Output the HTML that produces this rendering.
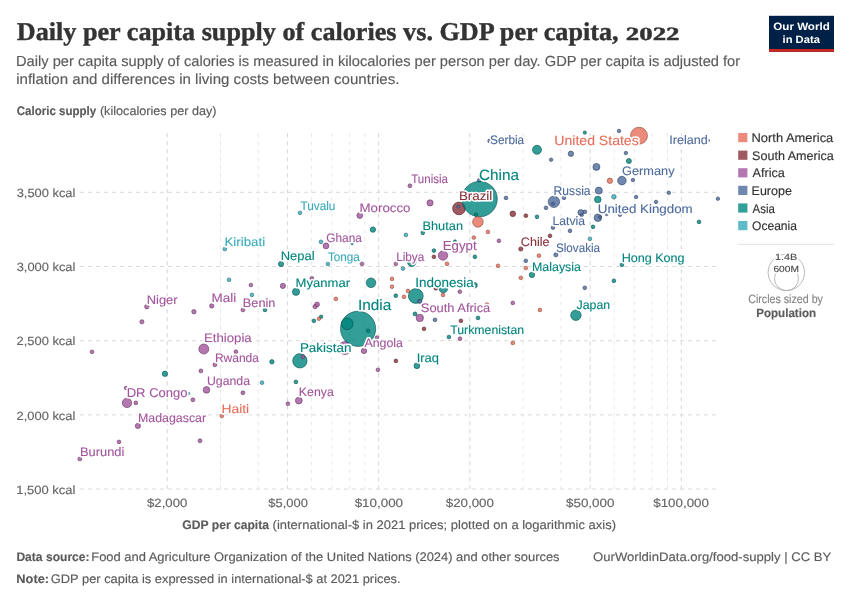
<!DOCTYPE html>
<html lang="en"><head><meta charset="utf-8"><title>Daily per capita supply of calories vs. GDP per capita, 2022</title>
<style>
html,body{margin:0;padding:0;background:#fff;}
body{width:850px;height:600px;overflow:hidden;}
svg{display:block;will-change:transform;text-rendering:geometricPrecision;font-family:"Liberation Sans",sans-serif;}
.ser{font-family:"Liberation Serif",serif;font-weight:bold;}
.halo{fill:#fff;stroke:#fff;stroke-width:3.2px;stroke-linejoin:round;}
</style></head><body>
<svg width="850" height="600" viewBox="0 0 850 600">
<rect width="850" height="600" fill="#fff"/>
<text x="16.74" y="40" font-size="25.6" textLength="601.86" lengthAdjust="spacingAndGlyphs" class="ser" fill="#333" stroke="#333" stroke-width="0.4">Daily per capita supply of calories vs. GDP per capita,</text>
<text x="625.77" y="40" font-size="18.6" textLength="53.78" lengthAdjust="spacingAndGlyphs" class="ser" fill="#333" stroke="#333" stroke-width="0.4">2022</text>
<text x="16.00" y="66" font-size="14.6" textLength="724.15" lengthAdjust="spacingAndGlyphs" fill="#5b5b5b" stroke="#5b5b5b" stroke-width="0.15">Daily per capita supply of calories is measured in kilocalories per person per day. GDP per capita is adjusted for</text>
<text x="16.19" y="84" font-size="14.6" textLength="383.18" lengthAdjust="spacingAndGlyphs" fill="#5b5b5b" stroke="#5b5b5b" stroke-width="0.15">inflation and differences in living costs between countries.</text>
<rect x="769" y="15.8" width="65" height="36" fill="#002147"/><rect x="769" y="49" width="65" height="2.8" fill="#ce261e"/>
<text x="773.32" y="30" font-size="10.6" textLength="56.44" lengthAdjust="spacingAndGlyphs" font-weight="bold" fill="#fff" stroke="#fff" stroke-width="0.01">Our World</text>
<text x="782.52" y="43" font-size="10.6" textLength="37.41" lengthAdjust="spacingAndGlyphs" font-weight="bold" fill="#fff" stroke="#fff" stroke-width="0.01">in Data</text>
<text x="16.73" y="115" font-size="12.4" textLength="79.43" lengthAdjust="spacingAndGlyphs" font-weight="bold" fill="#5b5b5b" stroke="#5b5b5b" stroke-width="0.15">Caloric supply</text>
<text x="99.92" y="115" font-size="12.4" textLength="116.67" lengthAdjust="spacingAndGlyphs" fill="#5b5b5b" stroke="#5b5b5b" stroke-width="0.15">(kilocalories per day)</text>
<g fill="none" stroke-dasharray="4,4" stroke-width="1">
<line x1="80" x2="716" y1="192.3" y2="192.3" stroke="#dadada"/>
<line x1="80" x2="716" y1="266.5" y2="266.5" stroke="#dadada"/>
<line x1="80" x2="716" y1="340.7" y2="340.7" stroke="#dadada"/>
<line x1="80" x2="716" y1="414.9" y2="414.9" stroke="#dadada"/>
<line x1="80" x2="716" y1="489.1" y2="489.1" stroke="#dadada"/>
<line x1="167.2" x2="167.2" y1="133.3" y2="489" stroke="#d4d4d4"/>
<line x1="287.6" x2="287.6" y1="133.3" y2="489" stroke="#d4d4d4"/>
<line x1="378.7" x2="378.7" y1="133.3" y2="489" stroke="#d4d4d4"/>
<line x1="469.8" x2="469.8" y1="133.3" y2="489" stroke="#d4d4d4"/>
<line x1="590.2" x2="590.2" y1="133.3" y2="489" stroke="#d4d4d4"/>
<line x1="681.3" x2="681.3" y1="133.3" y2="489" stroke="#d4d4d4"/>
<line x1="220.5" x2="220.5" y1="133.3" y2="489" stroke="#e8e8e8"/>
<line x1="258.3" x2="258.3" y1="133.3" y2="489" stroke="#e8e8e8"/>
<line x1="311.6" x2="311.6" y1="133.3" y2="489" stroke="#e8e8e8"/>
<line x1="331.8" x2="331.8" y1="133.3" y2="489" stroke="#e8e8e8"/>
<line x1="349.4" x2="349.4" y1="133.3" y2="489" stroke="#e8e8e8"/>
<line x1="364.9" x2="364.9" y1="133.3" y2="489" stroke="#e8e8e8"/>
<line x1="523.1" x2="523.1" y1="133.3" y2="489" stroke="#e8e8e8"/>
<line x1="560.9" x2="560.9" y1="133.3" y2="489" stroke="#e8e8e8"/>
<line x1="614.2" x2="614.2" y1="133.3" y2="489" stroke="#e8e8e8"/>
<line x1="634.4" x2="634.4" y1="133.3" y2="489" stroke="#e8e8e8"/>
<line x1="652.0" x2="652.0" y1="133.3" y2="489" stroke="#e8e8e8"/>
<line x1="667.5" x2="667.5" y1="133.3" y2="489" stroke="#e8e8e8"/>
</g>
<text x="16.71" y="197" font-size="12" textLength="58.65" lengthAdjust="spacingAndGlyphs" fill="#666" stroke="#666" stroke-width="0.15">3,500 kcal</text>
<text x="16.71" y="271" font-size="12" textLength="58.65" lengthAdjust="spacingAndGlyphs" fill="#666" stroke="#666" stroke-width="0.15">3,000 kcal</text>
<text x="16.55" y="345" font-size="12" textLength="58.81" lengthAdjust="spacingAndGlyphs" fill="#666" stroke="#666" stroke-width="0.15">2,500 kcal</text>
<text x="16.55" y="420" font-size="12" textLength="58.81" lengthAdjust="spacingAndGlyphs" fill="#666" stroke="#666" stroke-width="0.15">2,000 kcal</text>
<text x="16.21" y="494" font-size="12" textLength="59.16" lengthAdjust="spacingAndGlyphs" fill="#666" stroke="#666" stroke-width="0.15">1,500 kcal</text>
<text x="147.06" y="507" font-size="12" textLength="40.26" lengthAdjust="spacingAndGlyphs" fill="#666" stroke="#666" stroke-width="0.15">$2,000</text>
<text x="268.36" y="507" font-size="12" textLength="39.44" lengthAdjust="spacingAndGlyphs" fill="#666" stroke="#666" stroke-width="0.15">$5,000</text>
<text x="354.66" y="507" font-size="12" textLength="48.37" lengthAdjust="spacingAndGlyphs" fill="#666" stroke="#666" stroke-width="0.15">$10,000</text>
<text x="445.76" y="507" font-size="12" textLength="48.16" lengthAdjust="spacingAndGlyphs" fill="#666" stroke="#666" stroke-width="0.15">$20,000</text>
<text x="566.06" y="507" font-size="12" textLength="48.37" lengthAdjust="spacingAndGlyphs" fill="#666" stroke="#666" stroke-width="0.15">$50,000</text>
<text x="653.26" y="507" font-size="12" textLength="55.66" lengthAdjust="spacingAndGlyphs" fill="#666" stroke="#666" stroke-width="0.15">$100,000</text>
<text x="182.30" y="529" font-size="12.4" textLength="86.72" lengthAdjust="spacingAndGlyphs" font-weight="bold" fill="#5b5b5b" stroke="#5b5b5b" stroke-width="0.15">GDP per capita</text>
<text x="272.60" y="529" font-size="12.4" textLength="343.41" lengthAdjust="spacingAndGlyphs" fill="#5b5b5b" stroke="#5b5b5b" stroke-width="0.15">(international-$ in 2021 prices; plotted on a logarithmic axis)</text>
<g stroke-width="0.6" fill-opacity="0.8">
<circle cx="345" cy="348" r="6.5" fill="#A2559C" stroke="#643460"/>
<circle cx="459" cy="208.4" r="6.4" fill="#883039" stroke="#541d23"/>
<circle cx="479.2" cy="180.3" r="1.85" fill="#4C6A9C" stroke="#2f4160"/>
<circle cx="358.1" cy="328.8" r="17.6" fill="#00847E" stroke="#00514e"/>
<circle cx="479.6" cy="199.1" r="17.7" fill="#00847E" stroke="#00514e"/>
<circle cx="639" cy="135.7" r="8.5" fill="#E56E5A" stroke="#8d4437"/>
<circle cx="415.8" cy="296" r="7.4" fill="#00847E" stroke="#00514e"/>
<circle cx="299.9" cy="360.8" r="7.2" fill="#00847E" stroke="#00514e"/>
<circle cx="347.2" cy="323.8" r="5.9" fill="#00847E" stroke="#00514e"/>
<circle cx="553.9" cy="201.8" r="5.7" fill="#4C6A9C" stroke="#2f4160"/>
<circle cx="575.9" cy="315.2" r="5.2" fill="#00847E" stroke="#00514e"/>
<circle cx="477.9" cy="221.9" r="5.3" fill="#E56E5A" stroke="#8d4437"/>
<circle cx="203.8" cy="349" r="5.0" fill="#A2559C" stroke="#643460"/>
<circle cx="443" cy="255.5" r="4.7" fill="#A2559C" stroke="#643460"/>
<circle cx="127" cy="402.9" r="4.7" fill="#A2559C" stroke="#643460"/>
<circle cx="371" cy="282.8" r="4.8" fill="#00847E" stroke="#00514e"/>
<circle cx="537" cy="149.8" r="4.5" fill="#00847E" stroke="#00514e"/>
<circle cx="621.9" cy="180.6" r="4.3" fill="#4C6A9C" stroke="#2f4160"/>
<circle cx="443.3" cy="288.5" r="4.3" fill="#00847E" stroke="#00514e"/>
<circle cx="597.9" cy="217.7" r="3.8" fill="#4C6A9C" stroke="#2f4160"/>
<circle cx="411.75" cy="262.3" r="4.2" fill="#00847E" stroke="#00514e"/>
<circle cx="419.8" cy="317.9" r="3.7" fill="#A2559C" stroke="#643460"/>
<circle cx="296" cy="291.8" r="3.6" fill="#00847E" stroke="#00514e"/>
<circle cx="596.4" cy="166.9" r="3.5" fill="#4C6A9C" stroke="#2f4160"/>
<circle cx="598.8" cy="190.6" r="3.5" fill="#4C6A9C" stroke="#2f4160"/>
<circle cx="597.8" cy="199.5" r="3.3" fill="#00847E" stroke="#00514e"/>
<circle cx="298.8" cy="400.6" r="3.4" fill="#A2559C" stroke="#643460"/>
<circle cx="206.5" cy="389.9" r="3.3" fill="#A2559C" stroke="#643460"/>
<circle cx="430" cy="202.9" r="3.1" fill="#A2559C" stroke="#643460"/>
<circle cx="359.8" cy="215.5" r="2.9" fill="#A2559C" stroke="#643460"/>
<circle cx="326" cy="245.9" r="2.9" fill="#A2559C" stroke="#643460"/>
<circle cx="416.9" cy="365.8" r="2.9" fill="#00847E" stroke="#00514e"/>
<circle cx="580.8" cy="212.5" r="2.9" fill="#4C6A9C" stroke="#2f4160"/>
<circle cx="512.8" cy="213.8" r="2.8" fill="#883039" stroke="#541d23"/>
<circle cx="364" cy="350.9" r="2.7" fill="#A2559C" stroke="#643460"/>
<circle cx="570.9" cy="153.8" r="2.7" fill="#4C6A9C" stroke="#2f4160"/>
<circle cx="609.9" cy="180.8" r="2.7" fill="#E56E5A" stroke="#8d4437"/>
<circle cx="372.9" cy="229.6" r="2.7" fill="#00847E" stroke="#00514e"/>
<circle cx="164.9" cy="373.8" r="2.7" fill="#00847E" stroke="#00514e"/>
<circle cx="531.9" cy="274.9" r="2.7" fill="#00847E" stroke="#00514e"/>
<circle cx="474.5" cy="285.2" r="2.8" fill="#00847E" stroke="#00514e"/>
<circle cx="281" cy="264" r="2.6" fill="#00847E" stroke="#00514e"/>
<circle cx="282.9" cy="285.9" r="2.6" fill="#A2559C" stroke="#643460"/>
<circle cx="137.9" cy="425.9" r="2.6" fill="#A2559C" stroke="#643460"/>
<circle cx="628.9" cy="161" r="2.5" fill="#00847E" stroke="#00514e"/>
<circle cx="317.1" cy="304.4" r="2.4" fill="#A2559C" stroke="#643460"/>
<circle cx="315.1" cy="306.6" r="2.2" fill="#A2559C" stroke="#643460"/>
<circle cx="613.9" cy="196.8" r="2.3" fill="#38AABA" stroke="#226973"/>
<circle cx="211.7" cy="305.9" r="2.2" fill="#A2559C" stroke="#643460"/>
<circle cx="146.8" cy="306.7" r="2.2" fill="#A2559C" stroke="#643460"/>
<circle cx="193.9" cy="311.7" r="2.2" fill="#A2559C" stroke="#643460"/>
<circle cx="271.9" cy="361.8" r="2.2" fill="#00847E" stroke="#00514e"/>
<circle cx="419.8" cy="301.3" r="2.2" fill="#4C6A9C" stroke="#2f4160"/>
<circle cx="141.9" cy="321.8" r="2.1" fill="#A2559C" stroke="#643460"/>
<circle cx="520.8" cy="249" r="2.1" fill="#883039" stroke="#541d23"/>
<circle cx="555.9" cy="254.8" r="2.1" fill="#4C6A9C" stroke="#2f4160"/>
<circle cx="409.9" cy="185.8" r="1.95" fill="#A2559C" stroke="#643460"/>
<circle cx="242.9" cy="309.9" r="1.95" fill="#A2559C" stroke="#643460"/>
<circle cx="214.9" cy="364.8" r="1.95" fill="#A2559C" stroke="#643460"/>
<circle cx="200.9" cy="370.9" r="1.95" fill="#A2559C" stroke="#643460"/>
<circle cx="242.9" cy="392.8" r="1.95" fill="#A2559C" stroke="#643460"/>
<circle cx="192.9" cy="399.8" r="1.95" fill="#A2559C" stroke="#643460"/>
<circle cx="200" cy="440.8" r="1.95" fill="#A2559C" stroke="#643460"/>
<circle cx="79.8" cy="458.9" r="1.95" fill="#A2559C" stroke="#643460"/>
<circle cx="415" cy="313.9" r="1.95" fill="#00847E" stroke="#00514e"/>
<circle cx="300" cy="212.8" r="1.85" fill="#38AABA" stroke="#226973"/>
<circle cx="224.8" cy="249" r="1.85" fill="#38AABA" stroke="#226973"/>
<circle cx="321" cy="241.8" r="1.85" fill="#38AABA" stroke="#226973"/>
<circle cx="327.9" cy="264" r="1.85" fill="#38AABA" stroke="#226973"/>
<circle cx="229" cy="279.8" r="1.85" fill="#38AABA" stroke="#226973"/>
<circle cx="251.9" cy="294.9" r="1.85" fill="#38AABA" stroke="#226973"/>
<circle cx="405.9" cy="234.9" r="1.85" fill="#38AABA" stroke="#226973"/>
<circle cx="403" cy="268.6" r="1.85" fill="#38AABA" stroke="#226973"/>
<circle cx="262" cy="382.7" r="1.85" fill="#38AABA" stroke="#226973"/>
<circle cx="589.9" cy="238.8" r="1.85" fill="#38AABA" stroke="#226973"/>
<circle cx="188.6" cy="393.6" r="1.25" fill="#38AABA" stroke="#226973"/>
<circle cx="250.9" cy="285" r="1.85" fill="#A2559C" stroke="#643460"/>
<circle cx="311.8" cy="278.3" r="1.85" fill="#A2559C" stroke="#643460"/>
<circle cx="361.9" cy="263.8" r="1.85" fill="#A2559C" stroke="#643460"/>
<circle cx="395.8" cy="263.8" r="1.85" fill="#A2559C" stroke="#643460"/>
<circle cx="459.8" cy="291.7" r="1.85" fill="#A2559C" stroke="#643460"/>
<circle cx="498.9" cy="240.8" r="1.85" fill="#A2559C" stroke="#643460"/>
<circle cx="512.8" cy="302.9" r="1.85" fill="#A2559C" stroke="#643460"/>
<circle cx="460" cy="338.7" r="1.85" fill="#A2559C" stroke="#643460"/>
<circle cx="377" cy="337.5" r="1.75" fill="#A2559C" stroke="#643460"/>
<circle cx="377.9" cy="369.8" r="1.85" fill="#A2559C" stroke="#643460"/>
<circle cx="302.9" cy="356.8" r="1.85" fill="#A2559C" stroke="#643460"/>
<circle cx="235.9" cy="351.7" r="1.85" fill="#A2559C" stroke="#643460"/>
<circle cx="92" cy="351.8" r="1.85" fill="#A2559C" stroke="#643460"/>
<circle cx="135.8" cy="402.9" r="1.85" fill="#A2559C" stroke="#643460"/>
<circle cx="125.9" cy="388" r="1.65" fill="#A2559C" stroke="#643460"/>
<circle cx="119" cy="441.9" r="1.85" fill="#A2559C" stroke="#643460"/>
<circle cx="287.9" cy="403.7" r="1.85" fill="#A2559C" stroke="#643460"/>
<circle cx="584.8" cy="132.6" r="1.65" fill="#00847E" stroke="#00514e"/>
<circle cx="422.8" cy="232.8" r="1.85" fill="#00847E" stroke="#00514e"/>
<circle cx="352.1" cy="243.5" r="1.25" fill="#00847E" stroke="#00514e"/>
<circle cx="455" cy="241.3" r="1.45" fill="#00847E" stroke="#00514e"/>
<circle cx="433.9" cy="250.6" r="1.85" fill="#00847E" stroke="#00514e"/>
<circle cx="474.9" cy="256.8" r="1.85" fill="#00847E" stroke="#00514e"/>
<circle cx="537" cy="216.8" r="1.85" fill="#00847E" stroke="#00514e"/>
<circle cx="593" cy="226.8" r="1.85" fill="#00847E" stroke="#00514e"/>
<circle cx="699" cy="221.9" r="1.85" fill="#00847E" stroke="#00514e"/>
<circle cx="621.9" cy="264.8" r="1.85" fill="#00847E" stroke="#00514e"/>
<circle cx="613.9" cy="280.8" r="1.85" fill="#00847E" stroke="#00514e"/>
<circle cx="395.8" cy="295.7" r="1.85" fill="#00847E" stroke="#00514e"/>
<circle cx="265" cy="309.9" r="1.85" fill="#00847E" stroke="#00514e"/>
<circle cx="321.1" cy="316.8" r="1.75" fill="#00847E" stroke="#00514e"/>
<circle cx="313.9" cy="320.8" r="1.85" fill="#00847E" stroke="#00514e"/>
<circle cx="368.1" cy="330.8" r="1.85" fill="#00847E" stroke="#00514e"/>
<circle cx="448.9" cy="337" r="1.85" fill="#00847E" stroke="#00514e"/>
<circle cx="478" cy="317.9" r="1.85" fill="#00847E" stroke="#00514e"/>
<circle cx="295.9" cy="381.9" r="1.85" fill="#00847E" stroke="#00514e"/>
<circle cx="476" cy="214.6" r="1.65" fill="#00847E" stroke="#00514e"/>
<circle cx="489.7" cy="140.9" r="1.95" fill="#4C6A9C" stroke="#2f4160"/>
<circle cx="619" cy="130.9" r="1.75" fill="#4C6A9C" stroke="#2f4160"/>
<circle cx="625.9" cy="153" r="1.75" fill="#4C6A9C" stroke="#2f4160"/>
<circle cx="551.1" cy="159.7" r="1.75" fill="#4C6A9C" stroke="#2f4160"/>
<circle cx="632.9" cy="180" r="1.75" fill="#4C6A9C" stroke="#2f4160"/>
<circle cx="636.1" cy="197" r="1.75" fill="#4C6A9C" stroke="#2f4160"/>
<circle cx="656" cy="201.9" r="1.75" fill="#4C6A9C" stroke="#2f4160"/>
<circle cx="668.8" cy="192.8" r="1.75" fill="#4C6A9C" stroke="#2f4160"/>
<circle cx="717.9" cy="198.7" r="1.75" fill="#4C6A9C" stroke="#2f4160"/>
<circle cx="564" cy="197.8" r="1.85" fill="#4C6A9C" stroke="#2f4160"/>
<circle cx="546" cy="207.8" r="1.85" fill="#4C6A9C" stroke="#2f4160"/>
<circle cx="506" cy="197.9" r="1.85" fill="#4C6A9C" stroke="#2f4160"/>
<circle cx="553" cy="203.7" r="1.55" fill="#4C6A9C" stroke="#2f4160"/>
<circle cx="458.4" cy="206.6" r="1.65" fill="#4C6A9C" stroke="#2f4160"/>
<circle cx="584.9" cy="211.8" r="1.85" fill="#4C6A9C" stroke="#2f4160"/>
<circle cx="581.7" cy="215.2" r="1.65" fill="#4C6A9C" stroke="#2f4160"/>
<circle cx="599.9" cy="217" r="1.45" fill="#4C6A9C" stroke="#2f4160"/>
<circle cx="606.6" cy="214.3" r="1.45" fill="#4C6A9C" stroke="#2f4160"/>
<circle cx="619.9" cy="214.8" r="1.75" fill="#4C6A9C" stroke="#2f4160"/>
<circle cx="553" cy="227.6" r="1.85" fill="#4C6A9C" stroke="#2f4160"/>
<circle cx="570" cy="230.8" r="1.85" fill="#4C6A9C" stroke="#2f4160"/>
<circle cx="525.8" cy="260.8" r="1.85" fill="#4C6A9C" stroke="#2f4160"/>
<circle cx="584.8" cy="287.8" r="1.85" fill="#4C6A9C" stroke="#2f4160"/>
<circle cx="435" cy="319.8" r="1.85" fill="#4C6A9C" stroke="#2f4160"/>
<circle cx="525.9" cy="215.7" r="1.85" fill="#883039" stroke="#541d23"/>
<circle cx="550" cy="235.8" r="1.85" fill="#883039" stroke="#541d23"/>
<circle cx="433.9" cy="256.8" r="1.85" fill="#883039" stroke="#541d23"/>
<circle cx="435.8" cy="288.3" r="1.85" fill="#883039" stroke="#541d23"/>
<circle cx="460.9" cy="320.8" r="1.85" fill="#883039" stroke="#541d23"/>
<circle cx="424" cy="328.8" r="1.85" fill="#883039" stroke="#541d23"/>
<circle cx="395.9" cy="360.9" r="1.85" fill="#883039" stroke="#541d23"/>
<circle cx="487.9" cy="231.9" r="1.85" fill="#E56E5A" stroke="#8d4437"/>
<circle cx="473.8" cy="237.6" r="1.85" fill="#E56E5A" stroke="#8d4437"/>
<circle cx="447" cy="263.8" r="1.85" fill="#E56E5A" stroke="#8d4437"/>
<circle cx="538.9" cy="255.7" r="1.85" fill="#E56E5A" stroke="#8d4437"/>
<circle cx="498" cy="265.8" r="1.85" fill="#E56E5A" stroke="#8d4437"/>
<circle cx="525.8" cy="268" r="1.85" fill="#E56E5A" stroke="#8d4437"/>
<circle cx="520.8" cy="277.8" r="1.85" fill="#E56E5A" stroke="#8d4437"/>
<circle cx="392" cy="278.9" r="1.85" fill="#E56E5A" stroke="#8d4437"/>
<circle cx="392" cy="286.7" r="1.85" fill="#E56E5A" stroke="#8d4437"/>
<circle cx="408" cy="290.9" r="1.85" fill="#E56E5A" stroke="#8d4437"/>
<circle cx="404" cy="296.8" r="1.85" fill="#E56E5A" stroke="#8d4437"/>
<circle cx="443" cy="294.9" r="1.85" fill="#E56E5A" stroke="#8d4437"/>
<circle cx="335.8" cy="298.9" r="1.85" fill="#E56E5A" stroke="#8d4437"/>
<circle cx="318.9" cy="318.8" r="1.75" fill="#E56E5A" stroke="#8d4437"/>
<circle cx="486.9" cy="304.5" r="1.85" fill="#E56E5A" stroke="#8d4437"/>
<circle cx="539.9" cy="309.9" r="1.85" fill="#E56E5A" stroke="#8d4437"/>
<circle cx="512.8" cy="342.9" r="1.85" fill="#E56E5A" stroke="#8d4437"/>
<circle cx="221.8" cy="416" r="1.85" fill="#E56E5A" stroke="#8d4437"/>
</g>
<path d="M708.2,138 L710.2,140.4 L708.2,142.8 Z" fill="#4C6A9C"/>
<text x="490.06" y="144" font-size="12.3" textLength="34.14" lengthAdjust="spacingAndGlyphs" class="halo">Serbia</text><text x="490.06" y="144" font-size="12.3" textLength="34.14" lengthAdjust="spacingAndGlyphs" fill="#4C6A9C" stroke="#4C6A9C" stroke-width="0.1">Serbia</text>
<text x="554.32" y="145" font-size="13.4" textLength="84.39" lengthAdjust="spacingAndGlyphs" class="halo">United States</text><text x="554.32" y="145" font-size="13.4" textLength="84.39" lengthAdjust="spacingAndGlyphs" fill="#E56E5A" stroke="#E56E5A" stroke-width="0.1">United States</text>
<text x="669.34" y="144" font-size="12.3" textLength="38.47" lengthAdjust="spacingAndGlyphs" class="halo">Ireland</text><text x="669.34" y="144" font-size="12.3" textLength="38.47" lengthAdjust="spacingAndGlyphs" fill="#4C6A9C" stroke="#4C6A9C" stroke-width="0.1">Ireland</text>
<text x="478.92" y="180" font-size="15" textLength="40.08" lengthAdjust="spacingAndGlyphs" class="halo">China</text><text x="478.92" y="180" font-size="15" textLength="40.08" lengthAdjust="spacingAndGlyphs" fill="#00847E" stroke="#00847E" stroke-width="0.1">China</text>
<text x="411.24" y="183" font-size="12.3" textLength="36.76" lengthAdjust="spacingAndGlyphs" class="halo">Tunisia</text><text x="411.24" y="183" font-size="12.3" textLength="36.76" lengthAdjust="spacingAndGlyphs" fill="#A2559C" stroke="#A2559C" stroke-width="0.1">Tunisia</text>
<text x="622.06" y="175" font-size="12.3" textLength="52.47" lengthAdjust="spacingAndGlyphs" class="halo">Germany</text><text x="622.06" y="175" font-size="12.3" textLength="52.47" lengthAdjust="spacingAndGlyphs" fill="#4C6A9C" stroke="#4C6A9C" stroke-width="0.1">Germany</text>
<text x="553.61" y="195" font-size="12.7" textLength="36.99" lengthAdjust="spacingAndGlyphs" class="halo">Russia</text><text x="553.61" y="195" font-size="12.7" textLength="36.99" lengthAdjust="spacingAndGlyphs" fill="#4C6A9C" stroke="#4C6A9C" stroke-width="0.1">Russia</text>
<text x="458.90" y="200" font-size="12.3" textLength="33.39" lengthAdjust="spacingAndGlyphs" class="halo">Brazil</text><text x="458.90" y="200" font-size="12.3" textLength="33.39" lengthAdjust="spacingAndGlyphs" fill="#883039" stroke="#883039" stroke-width="0.1">Brazil</text>
<text x="597.77" y="213" font-size="12.3" textLength="94.91" lengthAdjust="spacingAndGlyphs" class="halo">United Kingdom</text><text x="597.77" y="213" font-size="12.3" textLength="94.91" lengthAdjust="spacingAndGlyphs" fill="#4C6A9C" stroke="#4C6A9C" stroke-width="0.1">United Kingdom</text>
<text x="300.44" y="210" font-size="12.3" textLength="34.95" lengthAdjust="spacingAndGlyphs" class="halo">Tuvalu</text><text x="300.44" y="210" font-size="12.3" textLength="34.95" lengthAdjust="spacingAndGlyphs" fill="#38AABA" stroke="#38AABA" stroke-width="0.1">Tuvalu</text>
<text x="359.51" y="212" font-size="12.3" textLength="50.95" lengthAdjust="spacingAndGlyphs" class="halo">Morocco</text><text x="359.51" y="212" font-size="12.3" textLength="50.95" lengthAdjust="spacingAndGlyphs" fill="#A2559C" stroke="#A2559C" stroke-width="0.1">Morocco</text>
<text x="552.50" y="225" font-size="12.3" textLength="32.50" lengthAdjust="spacingAndGlyphs" class="halo">Latvia</text><text x="552.50" y="225" font-size="12.3" textLength="32.50" lengthAdjust="spacingAndGlyphs" fill="#4C6A9C" stroke="#4C6A9C" stroke-width="0.1">Latvia</text>
<text x="422.45" y="230" font-size="12.3" textLength="40.58" lengthAdjust="spacingAndGlyphs" class="halo">Bhutan</text><text x="422.45" y="230" font-size="12.3" textLength="40.58" lengthAdjust="spacingAndGlyphs" fill="#00847E" stroke="#00847E" stroke-width="0.1">Bhutan</text>
<text x="326.30" y="242" font-size="12.3" textLength="35.60" lengthAdjust="spacingAndGlyphs" class="halo">Ghana</text><text x="326.30" y="242" font-size="12.3" textLength="35.60" lengthAdjust="spacingAndGlyphs" fill="#A2559C" stroke="#A2559C" stroke-width="0.1">Ghana</text>
<text x="224.41" y="246" font-size="12.3" textLength="40.69" lengthAdjust="spacingAndGlyphs" class="halo">Kiribati</text><text x="224.41" y="246" font-size="12.3" textLength="40.69" lengthAdjust="spacingAndGlyphs" fill="#38AABA" stroke="#38AABA" stroke-width="0.1">Kiribati</text>
<text x="520.86" y="246" font-size="12.3" textLength="28.70" lengthAdjust="spacingAndGlyphs" class="halo">Chile</text><text x="520.86" y="246" font-size="12.3" textLength="28.70" lengthAdjust="spacingAndGlyphs" fill="#883039" stroke="#883039" stroke-width="0.1">Chile</text>
<text x="442.71" y="250" font-size="13" textLength="33.88" lengthAdjust="spacingAndGlyphs" class="halo">Egypt</text><text x="442.71" y="250" font-size="13" textLength="33.88" lengthAdjust="spacingAndGlyphs" fill="#A2559C" stroke="#A2559C" stroke-width="0.1">Egypt</text>
<text x="555.97" y="252" font-size="12.3" textLength="44.13" lengthAdjust="spacingAndGlyphs" class="halo">Slovakia</text><text x="555.97" y="252" font-size="12.3" textLength="44.13" lengthAdjust="spacingAndGlyphs" fill="#4C6A9C" stroke="#4C6A9C" stroke-width="0.1">Slovakia</text>
<text x="280.73" y="260" font-size="12.3" textLength="33.93" lengthAdjust="spacingAndGlyphs" class="halo">Nepal</text><text x="280.73" y="260" font-size="12.3" textLength="33.93" lengthAdjust="spacingAndGlyphs" fill="#00847E" stroke="#00847E" stroke-width="0.1">Nepal</text>
<text x="327.94" y="261" font-size="12.3" textLength="31.86" lengthAdjust="spacingAndGlyphs" class="halo">Tonga</text><text x="327.94" y="261" font-size="12.3" textLength="31.86" lengthAdjust="spacingAndGlyphs" fill="#38AABA" stroke="#38AABA" stroke-width="0.1">Tonga</text>
<text x="396.13" y="261" font-size="12.3" textLength="28.17" lengthAdjust="spacingAndGlyphs" class="halo">Libya</text><text x="396.13" y="261" font-size="12.3" textLength="28.17" lengthAdjust="spacingAndGlyphs" fill="#A2559C" stroke="#A2559C" stroke-width="0.1">Libya</text>
<text x="621.67" y="262" font-size="12.3" textLength="62.94" lengthAdjust="spacingAndGlyphs" class="halo">Hong Kong</text><text x="621.67" y="262" font-size="12.3" textLength="62.94" lengthAdjust="spacingAndGlyphs" fill="#00847E" stroke="#00847E" stroke-width="0.1">Hong Kong</text>
<text x="531.98" y="271" font-size="12.3" textLength="49.02" lengthAdjust="spacingAndGlyphs" class="halo">Malaysia</text><text x="531.98" y="271" font-size="12.3" textLength="49.02" lengthAdjust="spacingAndGlyphs" fill="#00847E" stroke="#00847E" stroke-width="0.1">Malaysia</text>
<text x="295.63" y="287" font-size="12.3" textLength="54.39" lengthAdjust="spacingAndGlyphs" class="halo">Myanmar</text><text x="295.63" y="287" font-size="12.3" textLength="54.39" lengthAdjust="spacingAndGlyphs" fill="#00847E" stroke="#00847E" stroke-width="0.1">Myanmar</text>
<text x="415.36" y="287" font-size="13.4" textLength="58.44" lengthAdjust="spacingAndGlyphs" class="halo">Indonesia</text><text x="415.36" y="287" font-size="13.4" textLength="58.44" lengthAdjust="spacingAndGlyphs" fill="#00847E" stroke="#00847E" stroke-width="0.1">Indonesia</text>
<text x="146.74" y="304" font-size="12.3" textLength="30.87" lengthAdjust="spacingAndGlyphs" class="halo">Niger</text><text x="146.74" y="304" font-size="12.3" textLength="30.87" lengthAdjust="spacingAndGlyphs" fill="#A2559C" stroke="#A2559C" stroke-width="0.1">Niger</text>
<text x="211.59" y="302" font-size="12.3" textLength="24.71" lengthAdjust="spacingAndGlyphs" class="halo">Mali</text><text x="211.59" y="302" font-size="12.3" textLength="24.71" lengthAdjust="spacingAndGlyphs" fill="#A2559C" stroke="#A2559C" stroke-width="0.1">Mali</text>
<text x="242.86" y="307" font-size="12.3" textLength="32.57" lengthAdjust="spacingAndGlyphs" class="halo">Benin</text><text x="242.86" y="307" font-size="12.3" textLength="32.57" lengthAdjust="spacingAndGlyphs" fill="#A2559C" stroke="#A2559C" stroke-width="0.1">Benin</text>
<text x="357.98" y="310" font-size="15" textLength="33.32" lengthAdjust="spacingAndGlyphs" class="halo">India</text><text x="357.98" y="310" font-size="15" textLength="33.32" lengthAdjust="spacingAndGlyphs" fill="#00847E" stroke="#00847E" stroke-width="0.1">India</text>
<text x="420.81" y="312" font-size="12.3" textLength="69.49" lengthAdjust="spacingAndGlyphs" class="halo">South Africa</text><text x="420.81" y="312" font-size="12.3" textLength="69.49" lengthAdjust="spacingAndGlyphs" fill="#A2559C" stroke="#A2559C" stroke-width="0.1">South Africa</text>
<text x="576.61" y="309" font-size="12.3" textLength="33.49" lengthAdjust="spacingAndGlyphs" class="halo">Japan</text><text x="576.61" y="309" font-size="12.3" textLength="33.49" lengthAdjust="spacingAndGlyphs" fill="#00847E" stroke="#00847E" stroke-width="0.1">Japan</text>
<text x="450.22" y="334" font-size="12.3" textLength="73.97" lengthAdjust="spacingAndGlyphs" class="halo">Turkmenistan</text><text x="450.22" y="334" font-size="12.3" textLength="73.97" lengthAdjust="spacingAndGlyphs" fill="#00847E" stroke="#00847E" stroke-width="0.1">Turkmenistan</text>
<text x="203.92" y="342" font-size="12.3" textLength="47.78" lengthAdjust="spacingAndGlyphs" class="halo">Ethiopia</text><text x="203.92" y="342" font-size="12.3" textLength="47.78" lengthAdjust="spacingAndGlyphs" fill="#A2559C" stroke="#A2559C" stroke-width="0.1">Ethiopia</text>
<text x="364.48" y="347" font-size="12.3" textLength="38.52" lengthAdjust="spacingAndGlyphs" class="halo">Angola</text><text x="364.48" y="347" font-size="12.3" textLength="38.52" lengthAdjust="spacingAndGlyphs" fill="#A2559C" stroke="#A2559C" stroke-width="0.1">Angola</text>
<text x="299.90" y="352" font-size="12.7" textLength="51.58" lengthAdjust="spacingAndGlyphs" class="halo">Pakistan</text><text x="299.90" y="352" font-size="12.7" textLength="51.58" lengthAdjust="spacingAndGlyphs" fill="#00847E" stroke="#00847E" stroke-width="0.1">Pakistan</text>
<text x="214.91" y="362" font-size="12.3" textLength="44.09" lengthAdjust="spacingAndGlyphs" class="halo">Rwanda</text><text x="214.91" y="362" font-size="12.3" textLength="44.09" lengthAdjust="spacingAndGlyphs" fill="#A2559C" stroke="#A2559C" stroke-width="0.1">Rwanda</text>
<text x="416.70" y="362" font-size="12.3" textLength="22.32" lengthAdjust="spacingAndGlyphs" class="halo">Iraq</text><text x="416.70" y="362" font-size="12.3" textLength="22.32" lengthAdjust="spacingAndGlyphs" fill="#00847E" stroke="#00847E" stroke-width="0.1">Iraq</text>
<text x="206.95" y="385" font-size="12.3" textLength="43.05" lengthAdjust="spacingAndGlyphs" class="halo">Uganda</text><text x="206.95" y="385" font-size="12.3" textLength="43.05" lengthAdjust="spacingAndGlyphs" fill="#A2559C" stroke="#A2559C" stroke-width="0.1">Uganda</text>
<text x="126.73" y="397" font-size="12.7" textLength="60.82" lengthAdjust="spacingAndGlyphs" class="halo">DR Congo</text><text x="126.73" y="397" font-size="12.7" textLength="60.82" lengthAdjust="spacingAndGlyphs" fill="#A2559C" stroke="#A2559C" stroke-width="0.1">DR Congo</text>
<text x="298.89" y="396" font-size="12.3" textLength="34.91" lengthAdjust="spacingAndGlyphs" class="halo">Kenya</text><text x="298.89" y="396" font-size="12.3" textLength="34.91" lengthAdjust="spacingAndGlyphs" fill="#A2559C" stroke="#A2559C" stroke-width="0.1">Kenya</text>
<text x="221.47" y="413" font-size="12.3" textLength="27.67" lengthAdjust="spacingAndGlyphs" class="halo">Haiti</text><text x="221.47" y="413" font-size="12.3" textLength="27.67" lengthAdjust="spacingAndGlyphs" fill="#E56E5A" stroke="#E56E5A" stroke-width="0.1">Haiti</text>
<text x="137.98" y="422" font-size="12.3" textLength="68.12" lengthAdjust="spacingAndGlyphs" class="halo">Madagascar</text><text x="137.98" y="422" font-size="12.3" textLength="68.12" lengthAdjust="spacingAndGlyphs" fill="#A2559C" stroke="#A2559C" stroke-width="0.1">Madagascar</text>
<text x="79.94" y="456" font-size="12.3" textLength="44.43" lengthAdjust="spacingAndGlyphs" class="halo">Burundi</text><text x="79.94" y="456" font-size="12.3" textLength="44.43" lengthAdjust="spacingAndGlyphs" fill="#A2559C" stroke="#A2559C" stroke-width="0.1">Burundi</text>
<rect x="738.2" y="133.0" width="9.2" height="9.2" fill="#E56E5A" fill-opacity="0.8"/>
<text x="751.54" y="142" font-size="12.5" textLength="81.76" lengthAdjust="spacingAndGlyphs" fill="#333" stroke="#333" stroke-width="0.15">North America</text>
<rect x="738.2" y="150.6" width="9.2" height="9.2" fill="#883039" fill-opacity="0.8"/>
<text x="752.03" y="160" font-size="12.5" textLength="81.77" lengthAdjust="spacingAndGlyphs" fill="#333" stroke="#333" stroke-width="0.15">South America</text>
<rect x="738.2" y="168.2" width="9.2" height="9.2" fill="#A2559C" fill-opacity="0.8"/>
<text x="752.58" y="177" font-size="12.5" textLength="32.22" lengthAdjust="spacingAndGlyphs" fill="#333" stroke="#333" stroke-width="0.15">Africa</text>
<rect x="738.2" y="185.8" width="9.2" height="9.2" fill="#4C6A9C" fill-opacity="0.8"/>
<text x="751.58" y="195" font-size="12.5" textLength="40.28" lengthAdjust="spacingAndGlyphs" fill="#333" stroke="#333" stroke-width="0.15">Europe</text>
<rect x="738.2" y="203.4" width="9.2" height="9.2" fill="#00847E" fill-opacity="0.8"/>
<text x="752.58" y="213" font-size="12.5" textLength="22.32" lengthAdjust="spacingAndGlyphs" fill="#333" stroke="#333" stroke-width="0.15">Asia</text>
<rect x="738.2" y="221.0" width="9.2" height="9.2" fill="#38AABA" fill-opacity="0.8"/>
<text x="752.03" y="230" font-size="12.5" textLength="44.97" lengthAdjust="spacingAndGlyphs" fill="#333" stroke="#333" stroke-width="0.15">Oceania</text>
<line x1="738.2" x2="834" y1="244.3" y2="244.3" stroke="#e0e0e0" stroke-width="1"/>
<circle cx="786.3" cy="272.4" r="18.2" fill="none" stroke="#a8a8a8" stroke-width="0.8"/>
<circle cx="786.5" cy="278.6" r="12" fill="none" stroke="#a8a8a8" stroke-width="0.8"/>
<text x="775.08" y="260" font-size="9" textLength="22.19" lengthAdjust="spacingAndGlyphs" class="halo">1.4B</text><text x="775.08" y="260" font-size="9" textLength="22.19" lengthAdjust="spacingAndGlyphs" fill="#444" stroke="#444" stroke-width="0.1">1.4B</text>
<text x="773.48" y="272" font-size="9" textLength="25.45" lengthAdjust="spacingAndGlyphs" class="halo">600M</text><text x="773.48" y="272" font-size="9" textLength="25.45" lengthAdjust="spacingAndGlyphs" fill="#444" stroke="#444" stroke-width="0.1">600M</text>
<text x="748.26" y="303" font-size="12" textLength="74.66" lengthAdjust="spacingAndGlyphs" fill="#858585" stroke="#858585" stroke-width="0.15">Circles sized by</text>
<text x="756.22" y="317" font-size="12" textLength="59.89" lengthAdjust="spacingAndGlyphs" font-weight="bold" fill="#5b5b5b" stroke="#5b5b5b" stroke-width="0.15">Population</text>
<text x="16.39" y="561" font-size="12.4" textLength="73.17" lengthAdjust="spacingAndGlyphs" font-weight="bold" fill="#5b5b5b" stroke="#5b5b5b" stroke-width="0.15">Data source:</text>
<text x="91.24" y="561" font-size="12.4" textLength="468.33" lengthAdjust="spacingAndGlyphs" fill="#5b5b5b" stroke="#5b5b5b" stroke-width="0.15">Food and Agriculture Organization of the United Nations (2024) and other sources</text>
<text x="16.34" y="583" font-size="12.4" textLength="32.79" lengthAdjust="spacingAndGlyphs" font-weight="bold" fill="#5b5b5b" stroke="#5b5b5b" stroke-width="0.15">Note:</text>
<text x="50.85" y="583" font-size="12.4" textLength="349.72" lengthAdjust="spacingAndGlyphs" fill="#5b5b5b" stroke="#5b5b5b" stroke-width="0.15">GDP per capita is expressed in international-$ at 2021 prices.</text>
<text x="593.08" y="561" font-size="12.4" textLength="238.11" lengthAdjust="spacingAndGlyphs" fill="#5b5b5b" stroke="#5b5b5b" stroke-width="0.15">OurWorldinData.org/food-supply | CC BY</text>
</svg></body></html>
